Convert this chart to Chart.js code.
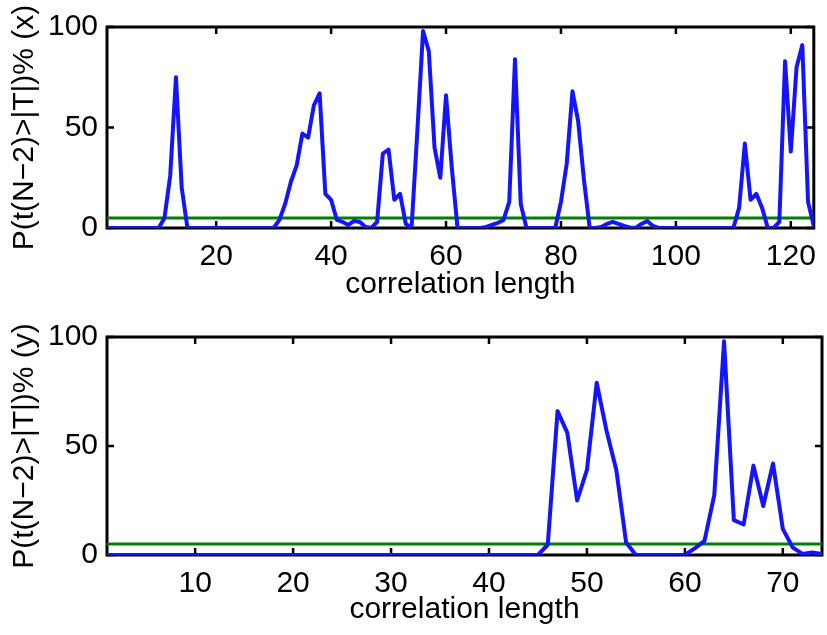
<!DOCTYPE html>
<html>
<head>
<meta charset="utf-8">
<script src="https://cdn.jsdelivr.net/npm/chart.js@4.4.0/dist/chart.umd.min.js"></script>
<style>
  html, body { margin: 0; padding: 0; background: #fff; }
  #wrapTop { position: absolute; left: 0; top: 0; width: 827px; height: 310px; }
  #wrapBottom { position: absolute; left: 0; top: 310px; width: 827px; height: 325px; }
</style>
</head>
<body>
<div id="wrapTop"><canvas id="chartTop"></canvas></div>
<div id="wrapBottom"><canvas id="chartBottom"></canvas></div>
<script>
// probability (%) per correlation length, x component (lengths 1..124)
const probX = [
  0, 0, 0, 0, 0, 0, 0, 0, 0, 0,
  5, 26, 75, 20, 0, 0, 0, 0, 0, 0,
  0, 0, 0, 0, 0, 0, 0, 0, 0, 0,
  4, 12, 23, 31, 47, 45, 61, 67, 17, 14,
  4, 3, 1.5, 3.5, 3, 0.5, 0, 3, 37, 39,
  14, 17, 2, 0, 48, 98, 88, 40, 25, 66,
  30, 0, 0, 0, 0, 0, 0.5, 1.5, 2.5, 4,
  13, 84, 12, 0, 0, 0, 0, 0, 0, 13,
  32, 68, 53, 24, 0, 0, 0.5, 2, 3, 2,
  1, 0.3, 0, 2, 3.5, 1, 0, 0, 0, 0,
  0, 0, 0, 0, 0, 0, 0, 0, 0, 0,
  10, 42, 14, 17, 10, 0, 0, 3, 83, 38,
  80, 91, 13, 1
];

// y component (lengths 1..74)
const probY = [
  0, 0, 0, 0, 0, 0, 0, 0, 0, 0,
  0, 0, 0, 0, 0, 0, 0, 0, 0, 0,
  0, 0, 0, 0, 0, 0, 0, 0, 0, 0,
  0, 0, 0, 0, 0, 0, 0, 0, 0, 0,
  0, 0, 0, 0, 0, 4.7, 66, 56, 25, 39,
  79, 57, 39, 5.7, 0, 0, 0, 0, 0, 0,
  3, 6.5, 27.5, 98, 16, 14, 41, 22.5, 42, 12,
  3.5, 0.5, 1.2, 0.5
];

const threshold = 5;
const topXTicks = [20, 40, 60, 80, 100, 120];
const bottomXTicks = [10, 20, 30, 40, 50, 60, 70];
const yTicks = [0, 50, 100];

Chart.defaults.font.family = '"Liberation Sans", Arial, sans-serif';
Chart.defaults.font.size = 30;
Chart.defaults.color = '#000';

// MATLAB-style box with inward ticks
const axesBox = {
  id: 'axesBox',
  beforeDatasetsDraw(chart) {
    const { ctx, chartArea: a, scales } = chart;
    const len = 7;
    ctx.save();
    ctx.strokeStyle = '#000';
    ctx.lineWidth = 3;
    ctx.strokeRect(a.left, a.top, a.right - a.left, a.bottom - a.top);
    ctx.lineWidth = 2.5;
    ctx.beginPath();
    scales.x.ticks.forEach(t => {
      const px = scales.x.getPixelForValue(t.value);
      ctx.moveTo(px, a.bottom); ctx.lineTo(px, a.bottom - len);
      ctx.moveTo(px, a.top); ctx.lineTo(px, a.top + len);
    });
    scales.y.ticks.forEach(t => {
      const py = scales.y.getPixelForValue(t.value);
      ctx.moveTo(a.left, py); ctx.lineTo(a.left + len, py);
      ctx.moveTo(a.right, py); ctx.lineTo(a.right - len, py);
    });
    ctx.stroke();
    ctx.restore();
  }
};

function makeChart(id, values, xTicks, yLabel, topPad, xAxisHeight) {
  const n = values.length;
  return new Chart(document.getElementById(id).getContext('2d'), {
    type: 'line',
    data: {
      datasets: [{
        data: values.map((v, i) => ({ x: i + 1, y: v })),
        borderColor: '#1414ff',
        borderWidth: 4,
        borderJoinStyle: 'round',
        borderCapStyle: 'round',
        pointRadius: 0,
        tension: 0,
        fill: false
      }, {
        data: [{ x: 1, y: threshold }, { x: n, y: threshold }],
        borderColor: '#008000',
        borderWidth: 3,
        pointRadius: 0,
        fill: false
      }]
    },
    options: {
      animation: false,
      responsive: true,
      maintainAspectRatio: false,
      layout: { padding: { top: topPad, right: 5, left: 0, bottom: 0 } },
      plugins: { legend: { display: false }, tooltip: { enabled: false } },
      scales: {
        x: {
          type: 'linear',
          min: 1,
          max: n,
          grid: { display: false, drawTicks: false },
          border: { display: false },
          afterBuildTicks: s => { s.ticks = xTicks.map(v => ({ value: v })); },
          afterFit: s => { s.height = xAxisHeight; },
          ticks: { padding: 11, maxRotation: 0, autoSkip: false },
          title: { display: true, text: 'correlation length', padding: { top: 0, bottom: 7 } }
        },
        y: {
          min: 0,
          max: 100,
          grid: { display: false, drawTicks: false },
          border: { display: false },
          afterBuildTicks: s => { s.ticks = yTicks.map(v => ({ value: v })); },
          afterFit: s => { s.width = 107; },
          ticks: { padding: 9 },
          title: { display: true, text: yLabel, padding: { top: 7, bottom: 0 } }
        }
      }
    },
    plugins: [axesBox]
  });
}

makeChart('chartTop', probX, topXTicks, 'P(t(N\u22122)>|T|)% (x)', 18, 82);
makeChart('chartBottom', probY, bottomXTicks, 'P(t(N\u22122)>|T|)% (y)', 22, 80);
</script>
</body>
</html>
